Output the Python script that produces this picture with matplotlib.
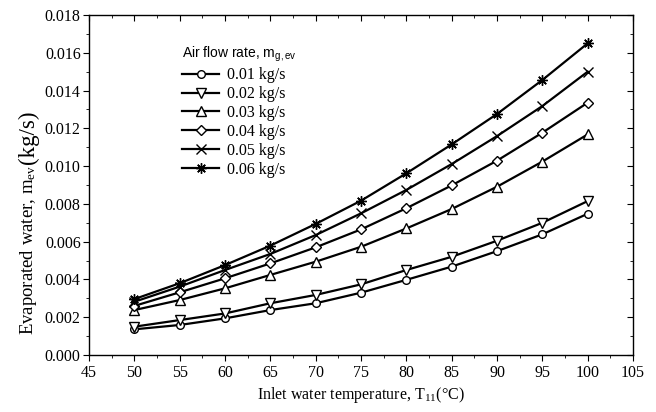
import matplotlib
matplotlib.use("Agg")
import matplotlib.pyplot as plt
from matplotlib.ticker import MultipleLocator

plt.rcParams['font.family'] = ['Liberation Serif', 'DejaVu Serif']
plt.rcParams['mathtext.fontset'] = 'custom'
plt.rcParams['mathtext.rm'] = 'Liberation Serif'
plt.rcParams['mathtext.it'] = 'Liberation Serif'
plt.rcParams['mathtext.sf'] = 'Liberation Sans'

# inlet water temperature (C)
temp = [50, 55, 60, 65, 70, 75, 80, 85, 90, 95, 100]

# evaporated water (kg/s) for each air flow rate
m001 = [0.00136, 0.00159, 0.00194, 0.00238, 0.00274, 0.00330, 0.00398, 0.00468, 0.00550, 0.00639, 0.00748]
m002 = [0.00150, 0.00185, 0.00220, 0.00274, 0.00318, 0.00374, 0.00450, 0.00520, 0.00605, 0.00700, 0.00815]
m003 = [0.00238, 0.00291, 0.00353, 0.00424, 0.00494, 0.00573, 0.00670, 0.00773, 0.00891, 0.01024, 0.01168]
m004 = [0.00260, 0.00332, 0.00406, 0.00485, 0.00570, 0.00665, 0.00777, 0.00898, 0.01029, 0.01177, 0.01336]
m005 = [0.00282, 0.00362, 0.00450, 0.00535, 0.00635, 0.00750, 0.00874, 0.01011, 0.01159, 0.01318, 0.01500]
m006 = [0.00296, 0.00380, 0.00476, 0.00579, 0.00694, 0.00817, 0.00962, 0.01115, 0.01276, 0.01456, 0.01650]

labels = ['0.01 kg/s', '0.02 kg/s', '0.03 kg/s', '0.04 kg/s', '0.05 kg/s', '0.06 kg/s']
series = [m001, m002, m003, m004, m005, m006]
markers = ['o', 'v', '^', 'D', 'x', (8, 2, 0)]
msizes = [5.5, 6.5, 6.5, 5, 6.5, 7.5]

fig = plt.figure(figsize=(6.56, 4.12), dpi=100)
ax = fig.add_axes([0.1357, 0.1383, 0.8293, 0.8253])

for ys, lab, mk, ms in zip(series, labels, markers, msizes):
    ax.plot(temp, ys, color='black', lw=1.6, marker=mk, ms=ms,
            mfc='white', mec='black', mew=1.0, label=lab)

ax.set_xlim(45, 105)
ax.set_ylim(0, 0.018)
ax.xaxis.set_major_locator(MultipleLocator(5))
ax.xaxis.set_minor_locator(MultipleLocator(2.5))
ax.yaxis.set_major_locator(MultipleLocator(0.002))
ax.yaxis.set_minor_locator(MultipleLocator(0.001))
ax.yaxis.set_major_formatter(matplotlib.ticker.FormatStrFormatter('%.3f'))
ax.tick_params(which='both', direction='out', labelsize=11.5, top=True, right=True)
ax.tick_params(which='major', length=4)
ax.tick_params(which='minor', length=2.5)
ax.tick_params(axis='y', which='major', pad=2)
for sp in ax.spines.values():
    sp.set_linewidth(1.0)

# top/right ticks point inward
for t in ax.xaxis.get_major_ticks() + ax.xaxis.get_minor_ticks():
    t.tick2line.set_marker(3)
for t in ax.yaxis.get_major_ticks() + ax.yaxis.get_minor_ticks():
    t.tick2line.set_marker(0)

fig.text(0.5 * (0.1357 + 0.965), 0.042, r'Inlet water temperature, T$_{11}$(°C)',
         ha='center', va='center', fontsize=11.5)

yl = fig.text(0.043, 1 - 335 / 412, r'Evaporated water, m$_{\mathrm{ev}}$ ',
              rotation=90, ha='center', va='bottom', fontsize=13.5)
ax.annotate('(kg/s)', xy=(0.5, 1.0), xycoords=yl, rotation=90,
            ha='center', va='bottom', fontsize=16.5)

leg = ax.legend(loc='upper left', bbox_to_anchor=(168 / 656, 1 - 31 / 412),
                bbox_transform=fig.transFigure, frameon=False, fontsize=11.5,
                handlelength=2.3, handletextpad=0.5, labelspacing=0.18,
                title=r'Air flow rate, m$_{\mathsf{g,ev}}$', alignment='left')
leg.get_title().set_family(['Liberation Sans', 'DejaVu Sans'])
leg.get_title().set_fontsize(10)

fig.savefig('out.png', dpi=100)
